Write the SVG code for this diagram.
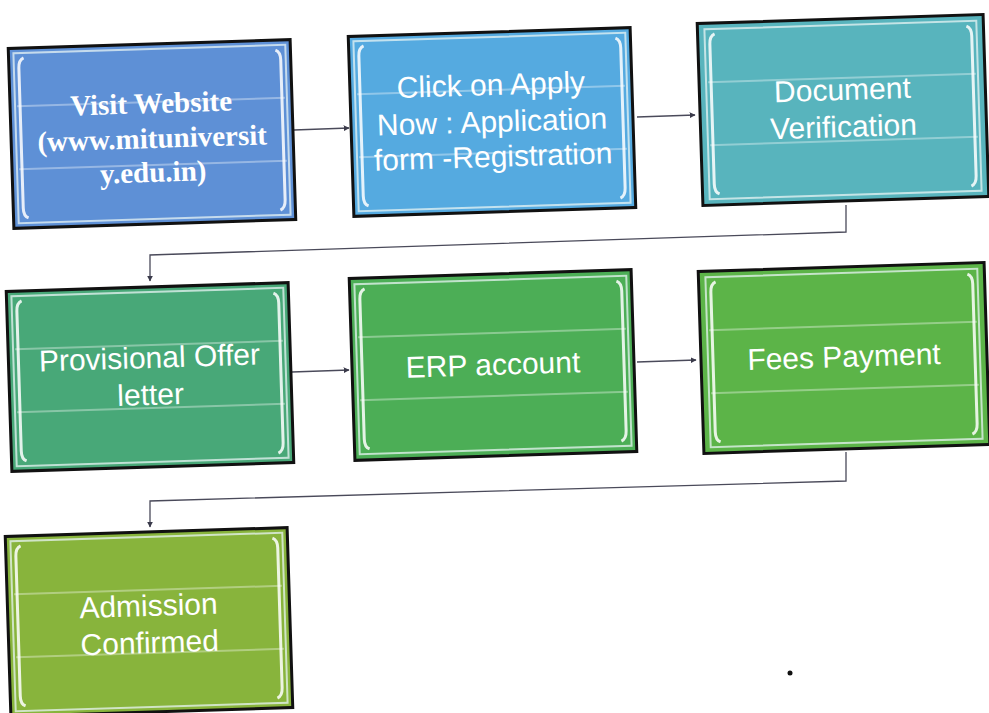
<svg xmlns="http://www.w3.org/2000/svg" width="989" height="713" viewBox="0 0 989 713">
<defs>
<style>
.box{stroke:#111;stroke-width:3}
.inner{fill:none;stroke:#e8f4f4;stroke-width:2;opacity:0.75}
.band{stroke:#ffffff;stroke-width:2;opacity:0.35}
.brk{fill:none;stroke:#ffffff;stroke-width:3;opacity:0.85}
.t{fill:#ffffff;font-family:"Liberation Sans","Open Sans",sans-serif;font-size:30px;text-anchor:middle}
.ts{fill:#ffffff;font-family:"Liberation Serif","DejaVu Serif",serif;font-weight:bold;font-size:29px;text-anchor:middle}
.c{fill:none;stroke:#4a4a5a;stroke-width:1.3;marker-end:url(#ah)}
</style>
<marker id="ah" viewBox="0 0 10 10" refX="9" refY="5" markerWidth="6" markerHeight="6" orient="auto" markerUnits="userSpaceOnUse">
<path d="M0,0 L10,5 L0,10 z" fill="#3a3a4a"/>
</marker>
<g id="deco">
<rect x="-136" y="-85" width="272" height="170" class="inner"/>
<line x1="-134" y1="-32" x2="134" y2="-32" class="band"/>
<line x1="-134" y1="31" x2="134" y2="31" class="band"/>
<path d="M -126 -80 Q -131 -78 -131 -70 L -131 70 Q -131 78 -126 80" class="brk"/>
<path d="M 126 -80 Q 131 -78 131 -70 L 131 70 Q 131 78 126 80" class="brk"/>
</g>
</defs>
<rect width="989" height="713" fill="#ffffff"/>

<g id="connectors">
<path class="c" d="M 294 130 L 349 128"/>
<path class="c" d="M 637 117 L 695 115"/>
<path class="c" d="M 846 205 L 846 232 L 150 255 L 150 281"/>
<path class="c" d="M 292 372 L 349 370"/>
<path class="c" d="M 637 362 L 696 360"/>
<path class="c" d="M 846 452 L 846 481 L 150 501 L 150 527"/>
</g>

<g id="n1" transform="translate(152 134) rotate(-1.8)">
<rect x="-141" y="-90" width="282" height="180" class="box" fill="#5e90d6"/>
<use href="#deco"/>
<text class="ts" x="0" y="-21">Visit Website</text>
<text class="ts" x="0" y="14">(www.mituniversit</text>
<text class="ts" x="0" y="48">y.edu.in)</text>
</g>

<g id="n2" transform="translate(492 122) rotate(-1.8)">
<rect x="-141" y="-90" width="282" height="180" class="box" fill="#55aae0"/>
<use href="#deco"/>
<text class="t" x="0" y="-27">Click on Apply</text>
<text class="t" x="0" y="10">Now : Application</text>
<text class="t" x="0" y="45">form -Registration</text>
</g>

<g id="n3" transform="translate(843 110) rotate(-1.8)">
<rect x="-143" y="-91" width="286" height="182" class="box" fill="#58b4bd"/>
<use href="#deco"/>
<text class="t" x="0" y="-10">Document</text>
<text class="t" x="0" y="27">Verification</text>
</g>

<g id="n4" transform="translate(150 377) rotate(-1.8)">
<rect x="-141" y="-90" width="282" height="180" class="box" fill="#48a878"/>
<use href="#deco"/>
<text class="t" x="0" y="-9">Provisional Offer</text>
<text class="t" x="0" y="28">letter</text>
</g>

<g id="n5" transform="translate(493 365) rotate(-1.8)">
<rect x="-141" y="-91" width="282" height="182" class="box" fill="#4cae56"/>
<use href="#deco"/>
<text class="t" x="0" y="10">ERP account</text>
</g>

<g id="n6" transform="translate(844 358) rotate(-1.8)">
<rect x="-143" y="-91" width="286" height="182" class="box" fill="#5cb448"/>
<use href="#deco"/>
<text class="t" x="0" y="9">Fees Payment</text>
</g>

<g id="n7" transform="translate(149 622) rotate(-1.8)">
<rect x="-141" y="-90" width="282" height="180" class="box" fill="#88b43c"/>
<use href="#deco"/>
<text class="t" x="0" y="-6">Admission</text>
<text class="t" x="0" y="31">Confirmed</text>
</g>

<circle cx="790" cy="673" r="2.5" fill="#111"/>
</svg>
